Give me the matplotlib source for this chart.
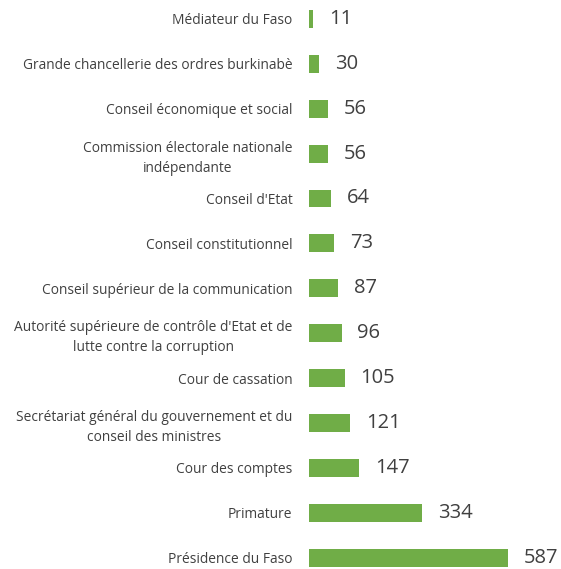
import matplotlib.pyplot as plt

institutions = [
    "Médiateur du Faso",
    "Grande chancellerie des ordres burkinabè",
    "Conseil économique et social",
    "Commission électorale nationale\nindépendante",
    "Conseil d'Etat",
    "Conseil constitutionnel",
    "Conseil supérieur de la communication",
    "Autorité supérieure de contrôle d'Etat et de\nlutte contre la corruption",
    "Cour de cassation",
    "Secrétariat général du gouvernement et du\nconseil des ministres",
    "Cour des comptes",
    "Primature",
    "Présidence du Faso",
]
values = [11, 30, 56, 56, 64, 73, 87, 96, 105, 121, 147, 334, 587]

plt.rcParams['font.family'] = ['Open Sans', 'DejaVu Sans']

fig = plt.figure(figsize=(5.61, 5.69), dpi=100)
ax = fig.add_axes([309 / 561, 0, 237 / 561, 1])

y = list(range(len(values)))
ax.barh(y, values, height=0.4, color='#70AD47')
ax.set_xlim(0, 700)
ax.set_ylim(12.25, -0.42)

ax.set_yticks(y)
ax.set_yticklabels(institutions, fontsize=9.9, color='#404040',
                   multialignment='center', linespacing=1.45)
ax.tick_params(axis='y', length=0, pad=12)
ax.set_xticks([])
for s in ax.spines.values():
    s.set_visible(False)

for yi, v in zip(y, values):
    ax.annotate(str(v), (v, yi), xytext=(11.5, 0), textcoords='offset points',
                va='center', ha='left', fontsize=14.5, color='#404040')

fig.savefig('out.png', dpi=100)
